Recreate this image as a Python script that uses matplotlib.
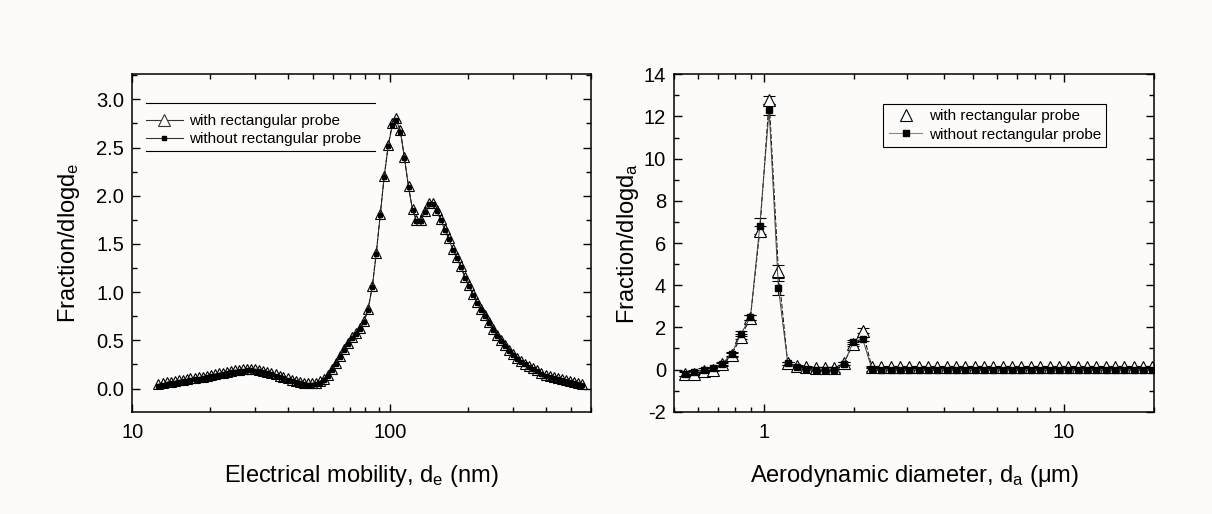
"""Size distributions with and without the rectangular probe (SMPS and APS)."""

import matplotlib

matplotlib.use("Agg")
import matplotlib.pyplot as plt
from matplotlib.lines import Line2D
from matplotlib.ticker import FixedLocator, FormatStrFormatter, LogLocator, MultipleLocator, NullFormatter

plt.rcParams["font.family"] = ["Liberation Sans", "DejaVu Sans"]
plt.rcParams["mathtext.default"] = "regular"

BG = "#fcfbf9"

# --- left panel: SMPS, electrical mobility diameter (nm) ---
de_nm = [
    12.6, 13.1, 13.6, 14.1, 14.6, 15.1, 15.7, 16.3, 16.8, 17.5,
    18.1, 18.8, 19.5, 20.2, 20.9, 21.7, 22.5, 23.3, 24.1, 25.0,
    25.9, 26.9, 27.9, 28.9, 30.0, 31.1, 32.2, 33.4, 34.6, 35.9,
    37.2, 38.5, 40.0, 41.4, 42.9, 44.5, 46.1, 47.8, 49.6, 51.4,
    53.3, 55.2, 57.3, 59.4, 61.5, 63.8, 66.1, 68.5, 71.0, 73.7,
    76.4, 79.1, 82.0, 85.1, 88.2, 91.4, 94.7, 98.2, 101.8, 105.5,
    109.4, 113.4, 117.6, 121.9, 126.3, 131.0, 135.8, 140.7, 145.9, 151.2,
    156.8, 162.5, 168.5, 174.7, 181.1, 187.7, 194.6, 201.7, 209.1, 216.7,
    224.7, 232.9, 241.4, 250.3, 259.5, 269.0, 278.8, 289.0, 299.6, 310.6,
    322.0, 333.8, 346.0, 358.7, 371.8, 385.4, 399.5, 414.2, 429.4, 445.1,
    461.4, 478.3, 495.8, 514.0, 532.8, 552.3,
]
smps_with = [
    0.045, 0.055, 0.065, 0.07, 0.075, 0.085, 0.09, 0.095, 0.105, 0.11,
    0.115, 0.125, 0.135, 0.145, 0.15, 0.16, 0.165, 0.175, 0.185, 0.19,
    0.195, 0.20, 0.205, 0.205, 0.20, 0.195, 0.185, 0.175, 0.165, 0.15,
    0.135, 0.12, 0.105, 0.09, 0.08, 0.07, 0.06, 0.055, 0.055, 0.06,
    0.075, 0.10, 0.14, 0.20, 0.27, 0.34, 0.41, 0.47, 0.53, 0.58,
    0.63, 0.70, 0.83, 1.06, 1.41, 1.81, 2.21, 2.53, 2.75, 2.81,
    2.68, 2.40, 2.10, 1.86, 1.75, 1.75, 1.84, 1.92, 1.93, 1.85,
    1.76, 1.66, 1.56, 1.45, 1.36, 1.27, 1.16, 1.07, 0.98, 0.90,
    0.83, 0.76, 0.69, 0.62, 0.56, 0.50, 0.45, 0.40, 0.36, 0.32,
    0.29, 0.26, 0.23, 0.21, 0.19, 0.165, 0.145, 0.13, 0.115, 0.105,
    0.095, 0.085, 0.075, 0.065, 0.055, 0.05,
]
smps_without = [
    0.03, 0.04, 0.05, 0.055, 0.06, 0.07, 0.075, 0.08, 0.09, 0.095,
    0.10, 0.11, 0.12, 0.13, 0.135, 0.145, 0.15, 0.16, 0.17, 0.175,
    0.18, 0.185, 0.19, 0.19, 0.185, 0.18, 0.17, 0.16, 0.15, 0.135,
    0.12, 0.105, 0.09, 0.075, 0.065, 0.055, 0.045, 0.04, 0.04, 0.045,
    0.06, 0.09, 0.13, 0.19, 0.26, 0.33, 0.40, 0.46, 0.52, 0.57,
    0.62, 0.69, 0.82, 1.05, 1.40, 1.80, 2.20, 2.52, 2.73, 2.79,
    2.66, 2.39, 2.09, 1.85, 1.74, 1.74, 1.83, 1.91, 1.91, 1.84,
    1.75, 1.65, 1.55, 1.44, 1.35, 1.26, 1.15, 1.06, 0.97, 0.89,
    0.82, 0.75, 0.68, 0.61, 0.55, 0.49, 0.44, 0.39, 0.35, 0.31,
    0.28, 0.25, 0.22, 0.20, 0.18, 0.155, 0.135, 0.12, 0.105, 0.095,
    0.085, 0.075, 0.065, 0.055, 0.045, 0.04,
]

# --- right panel: APS, aerodynamic diameter (um) ---
da_um = [
    0.542, 0.583, 0.626, 0.673, 0.723, 0.777, 0.835, 0.898, 0.965, 1.037,
    1.114, 1.197, 1.286, 1.382, 1.486, 1.596, 1.715, 1.843, 1.981, 2.129,
    2.288, 2.458, 2.642, 2.839, 3.051, 3.278, 3.523, 3.786, 4.068, 4.371,
    4.698, 5.048, 5.425, 5.829, 6.264, 6.732, 7.234, 7.774, 8.354, 8.977,
    9.647, 10.37, 11.14, 11.97, 12.86, 13.82, 14.86, 15.96, 17.15, 18.43,
    19.81,
]
aps_with = [
    -0.22, -0.20, -0.08, 0.0, 0.25, 0.70, 1.55, 2.45, 6.57, 12.79,
    4.66, 0.30, 0.18, 0.10, 0.08, 0.08, 0.08, 0.30, 1.20, 1.85,
    0.10, 0.10, 0.10, 0.10, 0.10, 0.10, 0.10, 0.10, 0.10, 0.10,
    0.10, 0.10, 0.10, 0.10, 0.10, 0.10, 0.10, 0.10, 0.10, 0.10,
    0.10, 0.10, 0.10, 0.10, 0.10, 0.10, 0.10, 0.10, 0.10, 0.10,
    0.10,
]
aps_with_err = [
    0.08, 0.08, 0.08, 0.08, 0.08, 0.10, 0.12, 0.12, 0.25, 0.20,
    0.30, 0.08, 0.05, 0.05, 0.05, 0.05, 0.05, 0.08, 0.10, 0.10,
    0.05, 0.05, 0.05, 0.05, 0.05, 0.05, 0.05, 0.05, 0.05, 0.05,
    0.05, 0.05, 0.05, 0.05, 0.05, 0.05, 0.05, 0.05, 0.05, 0.05,
    0.05, 0.05, 0.05, 0.05, 0.05, 0.05, 0.05, 0.05, 0.05, 0.05,
    0.05,
]
aps_without = [
    -0.19, -0.11, -0.03, 0.05, 0.28, 0.75, 1.70, 2.48, 6.81, 12.32,
    3.87, 0.30, 0.10, 0.02, 0.0, 0.0, 0.0, 0.28, 1.30, 1.46,
    0.02, 0.0, 0.0, 0.0, 0.0, 0.0, 0.0, 0.0, 0.0, 0.0,
    0.0, 0.0, 0.0, 0.0, 0.0, 0.0, 0.0, 0.0, 0.0, 0.0,
    0.0, 0.0, 0.0, 0.0, 0.0, 0.0, 0.0, 0.0, 0.0, 0.0,
    0.0,
]
aps_without_err = [
    0.10, 0.10, 0.08, 0.08, 0.08, 0.10, 0.12, 0.12, 0.36, 0.27,
    0.33, 0.08, 0.08, 0.08, 0.10, 0.10, 0.10, 0.08, 0.10, 0.10,
    0.10, 0.10, 0.10, 0.10, 0.10, 0.10, 0.10, 0.10, 0.10, 0.10,
    0.10, 0.10, 0.10, 0.10, 0.10, 0.10, 0.10, 0.10, 0.10, 0.10,
    0.10, 0.10, 0.10, 0.10, 0.10, 0.10, 0.10, 0.10, 0.10, 0.10,
    0.10,
]

legend_labels = ["with rectangular probe", "without rectangular probe"]


def style_axes(ax):
    for side in ax.spines.values():
        side.set_linewidth(1.1)
    ax.tick_params(which="both", direction="in", top=True, right=True,
                   labelsize=14.5, width=1.0)
    ax.tick_params(which="major", length=6)
    ax.tick_params(which="minor", length=3.5)
    ax.tick_params(axis="x", pad=8)
    ax.tick_params(axis="y", pad=6)
    ax.set_facecolor(BG)


fig = plt.figure(figsize=(12.12, 5.14), dpi=100, facecolor=BG)

# left: SMPS
ax1 = fig.add_axes([0.1092, 0.199, 0.3785, 0.6564])
ax1.plot(de_nm, smps_with, color="k", lw=0.7, ls=(0, (5, 2)), marker="^",
         ms=6.5, mfc="none", mec="k", mew=0.8)
ax1.plot(de_nm, smps_without, color="#222222", lw=0.7, marker="s",
         ms=3.5, mfc="k", mec="k")
ax1.set_xscale("log")
ax1.set_xlim(10, 600)
ax1.set_ylim(-0.24, 3.26)
ax1.xaxis.set_major_locator(FixedLocator([10, 100]))
ax1.xaxis.set_major_formatter(FormatStrFormatter("%d"))
ax1.xaxis.set_minor_locator(LogLocator(base=10, subs=range(2, 10)))
ax1.xaxis.set_minor_formatter(NullFormatter())
ax1.yaxis.set_major_locator(MultipleLocator(0.5))
ax1.yaxis.set_minor_locator(MultipleLocator(0.25))
ax1.yaxis.set_major_formatter(FormatStrFormatter("%.1f"))
style_axes(ax1)
ax1.set_xlabel("Electrical mobility, d$_e$ (nm)", fontsize=17, labelpad=15)
ax1.set_ylabel("Fraction/dlogd$_e$", fontsize=17, labelpad=10)

h_with = Line2D([], [], color="#333333", lw=0.8, marker="^", ms=8,
                mfc=BG, mec="#333333", mew=0.8)
h_without = Line2D([], [], color="#333333", lw=0.8, marker="s", ms=3.5,
                   mfc="k", mec="k")
ax1.legend([h_with, h_without], legend_labels, loc="upper left",
           bbox_to_anchor=(0.03, 0.882), frameon=False, fontsize=11,
           handlelength=2.4, handletextpad=0.4, labelspacing=0.27,
           borderpad=0, borderaxespad=0, numpoints=1)
# rules above and below the legend
ax1.plot([0.03, 0.529], [0.914, 0.914], transform=ax1.transAxes, color="k",
         lw=0.8, clip_on=False)
ax1.plot([0.03, 0.529], [0.773, 0.773], transform=ax1.transAxes, color="k",
         lw=0.8, clip_on=False)

# right: APS
ax2 = fig.add_axes([0.5564, 0.199, 0.3954, 0.6564])
ax2.errorbar(da_um, aps_with, yerr=aps_with_err, color="k", lw=0.7,
             ls=(0, (5, 2)), marker="^", ms=9, mfc="white", mec="k",
             mew=0.8, ecolor="k", elinewidth=0.7, capsize=4, capthick=0.8)
ax2.errorbar(da_um, aps_without, yerr=aps_without_err, color="#444444",
             lw=0.7, marker="s", ms=4.5, mfc="k", mec="k", ecolor="k",
             elinewidth=0.7, capsize=4, capthick=0.8)
ax2.set_xscale("log")
ax2.set_xlim(0.5, 20)
ax2.set_ylim(-2, 14)
ax2.xaxis.set_major_locator(FixedLocator([1, 10]))
ax2.xaxis.set_major_formatter(FormatStrFormatter("%d"))
ax2.xaxis.set_minor_locator(LogLocator(base=10, subs=range(2, 10)))
ax2.xaxis.set_minor_formatter(NullFormatter())
ax2.yaxis.set_major_locator(MultipleLocator(2))
ax2.yaxis.set_minor_locator(MultipleLocator(1))
ax2.yaxis.set_major_formatter(FormatStrFormatter("%d"))
style_axes(ax2)
ax2.set_xlabel("Aerodynamic diameter, d$_a$ (\u03bcm)", fontsize=17, labelpad=15)
ax2.set_ylabel("Fraction/dlogd$_a$", fontsize=17, labelpad=2)

r_with = Line2D([], [], ls="none", marker="^", ms=9, mfc="white", mec="k",
                mew=0.8)
r_without = Line2D([], [], color="#888888", lw=0.8, marker="s", ms=4,
                   mfc="k", mec="k")
leg2 = ax2.legend([r_with, r_without], legend_labels, loc="upper right",
                  bbox_to_anchor=(0.901, 0.913), fontsize=11, fancybox=False,
                  edgecolor="k", framealpha=1, facecolor=BG, handlelength=2.2,
                  handletextpad=0.4, labelspacing=0.3, borderpad=0.35,
                  borderaxespad=0, numpoints=1)
leg2.get_frame().set_linewidth(0.8)

fig.savefig("out.png", dpi=100, facecolor=BG)
